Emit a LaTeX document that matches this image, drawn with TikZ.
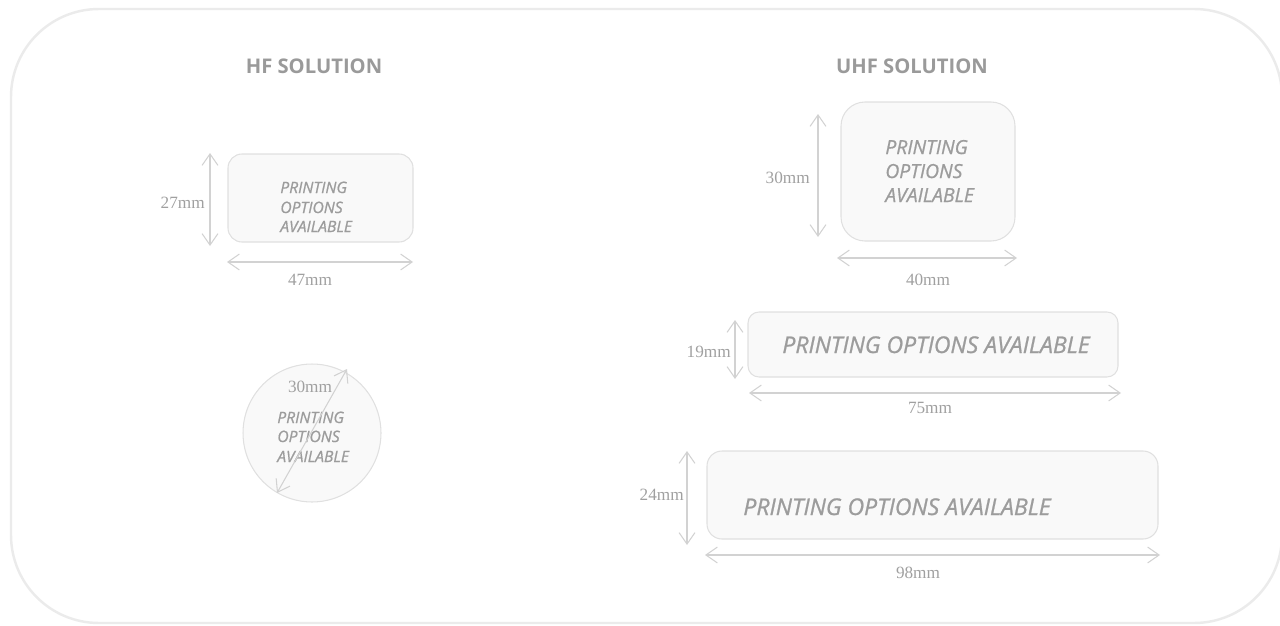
\documentclass[tikz,border=0pt]{standalone}
\usepackage{fontspec}
\setmainfont{Open Sans}
\newfontfamily\dimfont{Liberation Serif}
\newfontfamily\printfont[FakeBold=0.9]{Open Sans}
\usetikzlibrary{arrows.meta}
\definecolor{framec}{HTML}{EBEBEB}
\definecolor{boxline}{HTML}{E0E0E0}
\definecolor{boxfill}{HTML}{F9F9F9}
\definecolor{arrowc}{HTML}{D2D2D2}
\definecolor{titlec}{HTML}{9A9A9A}
\definecolor{printc}{HTML}{9C9C9C}
\definecolor{dimc}{HTML}{A0A0A0}
\tikzset{
  frame/.style={draw=framec, line width=1.4pt},
  tagbox/.style={draw=boxline, fill=boxfill, line width=0.6pt},
  dimarrow/.style={draw=arrowc, line width=0.6pt, {Straight Barb[length=6.5pt,width=9pt]}-{Straight Barb[length=6.5pt,width=9pt]}},
  title/.style={inner sep=0pt, anchor=base, text=titlec, font=\fontsize{11.5}{13}\selectfont\bfseries},
  printsmall/.style={inner sep=0pt, anchor=base west, text=printc, font=\printfont\fontsize{8.9}{10}\selectfont\itshape},
  printmid/.style={inner sep=0pt, anchor=base west, text=printc, font=\printfont\fontsize{11}{12}\selectfont\itshape},
  printbig/.style={inner sep=0pt, anchor=base west, text=printc, font=\printfont\fontsize{13.1}{14}\selectfont\itshape},
  dimlabel/.style={inner sep=0pt, text=dimc, font=\dimfont\fontsize{9.8}{11}\selectfont},
}
\begin{document}
\begin{tikzpicture}[x=0.02cm,y=-0.02cm]
\useasboundingbox (0,0) rectangle (1280,625);
% outer frame
\draw[frame, rounded corners=1.76cm] (11,9) rectangle (1282,623);

% titles
\node[title] (hft) at (314,73) {HF SOLUTION};
\node[title] (uhft) at (912,73) {UHF SOLUTION};

% ---------- HF rectangle ----------
\draw[tagbox, rounded corners=0.28cm] (228,154) rectangle (413,242);
\node[printsmall] (hf1) at (280,193) {PRINTING};
\node[printsmall] (hf2) at (280,213) {OPTIONS};
\node[printsmall] (hf3) at (280,232) {AVAILABLE};
\coordinate (hfv1) at (210,153);
\coordinate (hfv2) at (210,246);
\draw[dimarrow] (hfv1) -- (hfv2);
\node[dimlabel, anchor=base east] (hfh) at (205,208) {27mm};
\coordinate (hfh1) at (227,262);
\coordinate (hfh2) at (413,262);
\draw[dimarrow] (hfh1) -- (hfh2);
\node[dimlabel, anchor=base] (hfw) at (310,285) {47mm};

% ---------- HF circle ----------
\draw[tagbox] (312,433) circle[radius=1.38cm];
\node[printsmall] (c1) at (277,423) {PRINTING};
\node[printsmall] (c2) at (277,442) {OPTIONS};
\node[printsmall] (c3) at (277,462) {AVAILABLE};
\coordinate (cd1) at (277,493);
\coordinate (cd2) at (347,369);
\draw[dimarrow] (cd1) -- (cd2);
\node[dimlabel, anchor=base] (cdl) at (310,392) {30mm};

% ---------- UHF 1 ----------
\draw[tagbox, rounded corners=0.48cm] (841,102) rectangle (1015,241);
\node[printmid] (u11) at (885,154) {PRINTING};
\node[printmid] (u12) at (885,178) {OPTIONS};
\node[printmid] (u13) at (885,202) {AVAILABLE};
\coordinate (u1v1) at (818,114);
\coordinate (u1v2) at (818,237);
\draw[dimarrow] (u1v1) -- (u1v2);
\node[dimlabel, anchor=base east] (u1h) at (810,183) {30mm};
\coordinate (u1h1) at (837,258);
\coordinate (u1h2) at (1017,258);
\draw[dimarrow] (u1h1) -- (u1h2);
\node[dimlabel, anchor=base] (u1w) at (928,285) {40mm};

% ---------- UHF 2 ----------
\draw[tagbox, rounded corners=0.22cm] (748,312) rectangle (1118,377);
\node[printbig] (u2t) at (782,353) {PRINTING OPTIONS AVAILABLE};
\coordinate (u2v1) at (735,320);
\coordinate (u2v2) at (735,379);
\draw[dimarrow] (u2v1) -- (u2v2);
\node[dimlabel, anchor=base east] (u2h) at (731,357) {19mm};
\coordinate (u2h1) at (749,393);
\coordinate (u2h2) at (1121,393);
\draw[dimarrow] (u2h1) -- (u2h2);
\node[dimlabel, anchor=base] (u2w) at (930,413) {75mm};

% ---------- UHF 3 ----------
\draw[tagbox, rounded corners=0.3cm] (707,451) rectangle (1158,539);
\node[printbig] (u3t) at (743,515) {PRINTING OPTIONS AVAILABLE};
\coordinate (u3v1) at (687,451);
\coordinate (u3v2) at (687,545);
\draw[dimarrow] (u3v1) -- (u3v2);
\node[dimlabel, anchor=base east] (u3h) at (684,500) {24mm};
\coordinate (u3h1) at (705,555);
\coordinate (u3h2) at (1160,555);
\draw[dimarrow] (u3h1) -- (u3h2);
\node[dimlabel, anchor=base] (u3w) at (918,578) {98mm};
\end{tikzpicture}
\end{document}
